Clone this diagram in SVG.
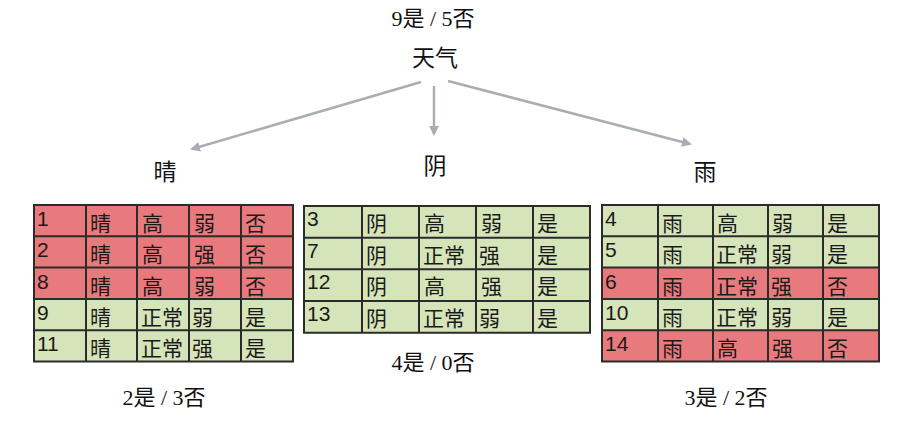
<svg xmlns="http://www.w3.org/2000/svg" width="917" height="424" viewBox="0 0 917 424">
<style>
.lbl{font-family:"Liberation Serif","Noto Sans CJK SC",serif;fill:#111;text-anchor:middle}
.cnt{font-size:22px}
.att{font-size:23px}
.tx{font-family:"Liberation Sans","Noto Sans CJK SC",sans-serif;font-size:21px;fill:#1a1a1a}
.r{fill:#e8797c}
.g{fill:#d6e4b9}
.grid{fill:none;stroke:#2b2b2b;stroke-width:2}
.arr{stroke:#a9aeb4;stroke-width:2.5;fill:none;marker-end:url(#ah)}
</style>
<defs>
<marker id="ah" viewBox="0 0 10 10" refX="8" refY="5" markerWidth="4" markerHeight="4" orient="auto" markerUnits="strokeWidth">
<path d="M0,0 L10,5 L0,10 z" fill="#a9aeb4"/>
</marker>
</defs>
<rect width="917" height="424" fill="#fff"/>

<g id="root">
<text class="lbl cnt" x="433" y="26">9是 / 5否</text>
<text class="lbl att" x="435" y="66">天气</text>
</g>

<g id="connectors">
<line class="arr" x1="421" y1="82" x2="192" y2="149"/>
<line class="arr" x1="434" y1="86" x2="434" y2="134"/>
<line class="arr" x1="448" y1="81" x2="690" y2="144"/>
</g>

<g id="sunny">
<text class="lbl att" x="165" y="180">晴</text>
<rect class="r" x="34" y="205" width="259" height="93.9"/>
<rect class="g" x="34" y="298.9" width="259" height="62.6"/>
<path class="grid" d="M34,205H293V361.5H34Z M34,236.3H293 M34,267.6H293 M34,298.9H293 M34,330.2H293 M86,205V361.5 M137,205V361.5 M189,205V361.5 M241,205V361.5"/>
<g class="tx">
<text x="37" y="226">1</text><text x="90" y="231">晴</text><text x="142" y="231">高</text><text x="194" y="231">弱</text><text x="245" y="231">否</text>
<text x="37" y="257.3">2</text><text x="90" y="262.3">晴</text><text x="142" y="262.3">高</text><text x="194" y="262.3">强</text><text x="245" y="262.3">否</text>
<text x="37" y="288.6">8</text><text x="90" y="293.6">晴</text><text x="142" y="293.6">高</text><text x="194" y="293.6">弱</text><text x="245" y="293.6">否</text>
<text x="37" y="319.9">9</text><text x="90" y="324.9">晴</text><text x="141" y="324.9">正常</text><text x="192" y="324.9">弱</text><text x="245" y="324.9">是</text>
<text x="37" y="351.2">11</text><text x="90" y="356.2">晴</text><text x="141" y="356.2">正常</text><text x="192" y="356.2">强</text><text x="245" y="356.2">是</text>
</g>
<text class="lbl cnt" x="164" y="405">2是 / 3否</text>
</g>

<g id="overcast">
<text class="lbl att" x="435" y="174">阴</text>
<rect class="g" x="304" y="206" width="286" height="126.7"/>
<path class="grid" d="M304,206H590V332.7H304Z M304,237.7H590 M304,269.3H590 M304,301H590 M362,206V332.7 M419,206V332.7 M476,206V332.7 M533,206V332.7"/>
<g class="tx">
<text x="307" y="226">3</text><text x="366" y="231">阴</text><text x="424" y="231">高</text><text x="481" y="231">弱</text><text x="537" y="231">是</text>
<text x="307" y="257.7">7</text><text x="366" y="262.7">阴</text><text x="423" y="262.7">正常</text><text x="479" y="262.7">强</text><text x="537" y="262.7">是</text>
<text x="307" y="289.3">12</text><text x="366" y="294.3">阴</text><text x="424" y="294.3">高</text><text x="481" y="294.3">强</text><text x="537" y="294.3">是</text>
<text x="307" y="321">13</text><text x="366" y="326">阴</text><text x="423" y="326">正常</text><text x="479" y="326">弱</text><text x="537" y="326">是</text>
</g>
<text class="lbl cnt" x="433" y="370">4是 / 0否</text>
</g>

<g id="rain">
<text class="lbl att" x="705" y="180">雨</text>
<rect class="g" x="602" y="205" width="277" height="62.6"/>
<rect class="r" x="602" y="267.6" width="277" height="31.3"/>
<rect class="g" x="602" y="298.9" width="277" height="31.3"/>
<rect class="r" x="602" y="330.2" width="277" height="31.3"/>
<path class="grid" d="M602,205H879V361.5H602Z M602,236.3H879 M602,267.6H879 M602,298.9H879 M602,330.2H879 M658,205V361.5 M713,205V361.5 M768,205V361.5 M823,205V361.5"/>
<g class="tx">
<text x="605" y="226">4</text><text x="662" y="231">雨</text><text x="717" y="231">高</text><text x="772" y="231">弱</text><text x="827" y="231">是</text>
<text x="605" y="257.3">5</text><text x="662" y="262.3">雨</text><text x="716" y="262.3">正常</text><text x="771" y="262.3">弱</text><text x="827" y="262.3">是</text>
<text x="605" y="288.6">6</text><text x="662" y="293.6">雨</text><text x="716" y="293.6">正常</text><text x="771" y="293.6">强</text><text x="827" y="293.6">否</text>
<text x="605" y="319.9">10</text><text x="662" y="324.9">雨</text><text x="716" y="324.9">正常</text><text x="771" y="324.9">弱</text><text x="827" y="324.9">是</text>
<text x="605" y="351.2">14</text><text x="662" y="356.2">雨</text><text x="717" y="356.2">高</text><text x="772" y="356.2">强</text><text x="827" y="356.2">否</text>
</g>
<text class="lbl cnt" x="726" y="405">3是 / 2否</text>
</g>
</svg>
